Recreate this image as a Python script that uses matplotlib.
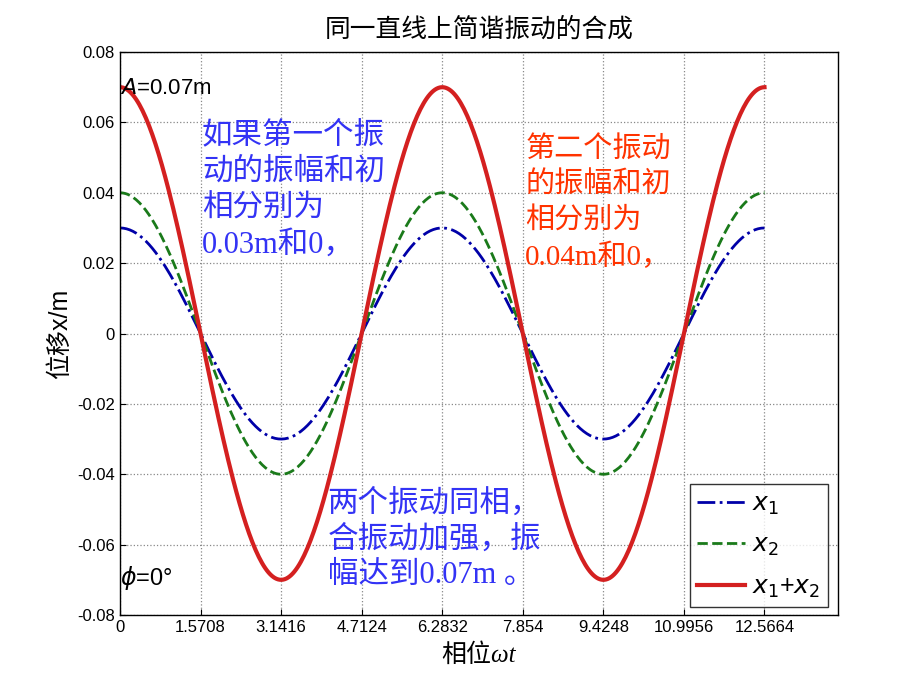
import numpy as np
import matplotlib
matplotlib.use("Agg")
import matplotlib.pyplot as plt

# Data
amp1 = 0.03          # first vibration amplitude (m)
amp2 = 0.04          # second vibration amplitude (m)
phase1 = 0.0
phase2 = 0.0
t_max = 4 * np.pi
xtick_vals = [0, 1.5708, 3.1416, 4.7124, 6.2832, 7.854, 9.4248, 10.9956, 12.5664]
xtick_labels = ["0", "1.5708", "3.1416", "4.7124", "6.2832", "7.854", "9.4248", "10.9956", "12.5664"]
ytick_vals = [-0.08, -0.06, -0.04, -0.02, 0, 0.02, 0.04, 0.06, 0.08]
ytick_labels = ["-0.08", "-0.06", "-0.04", "-0.02", "0", "0.02", "0.04", "0.06", "0.08"]
blue_lines = ['如果第一个振', '动的振幅和初', '相分别为', '0.03m和0，']
red_lines = ['第二个振动', '的振幅和初', '相分别为', '0.04m和0，']
bottom_lines = ['两个振动同相，', '合振动加强，振', '幅达到0.07m 。']

t = np.linspace(0, t_max, 400)
x1 = amp1 * np.cos(t + phase1)
x2 = amp2 * np.cos(t + phase2)
xs = x1 + x2

plt.rcParams['font.family'] = ['Liberation Sans', 'Noto Sans CJK SC', 'DejaVu Sans']
cjk = ['Noto Sans CJK SC', 'DejaVu Sans']
sans_cjk = ['Liberation Sans', 'Noto Sans CJK SC', 'DejaVu Sans']
mix = ['Liberation Serif', 'Noto Sans CJK SC', 'DejaVu Sans']

fig = plt.figure(figsize=(9.2, 6.9), dpi=100)
ax = fig.add_axes([0.1304, 0.1087, 0.7805, 0.8159])

ax.plot(t, x1, color='#0000A8', linestyle='-.', linewidth=2, label='$x_1$')
ax.plot(t, x2, color='#1A7A1A', linestyle='--', linewidth=2, label='$x_2$')
ax.plot(t, xs, color='#D42020', linestyle='-', linewidth=3, label='$x_1$+$x_2$')

ax.set_xlim(0, 14)
ax.set_ylim(-0.08, 0.08)
ax.set_xticks(xtick_vals)
ax.set_xticklabels(xtick_labels)
ax.set_yticks(ytick_vals)
ax.set_yticklabels(ytick_labels)
ax.tick_params(direction='in', labelsize=12, length=4)
ax.grid(True, linestyle=':', color='#888888', linewidth=0.9)
for s in ax.spines.values():
    s.set_linewidth(1)

ax.set_title('同一直线上简谐振动的合成', fontsize=18.5, family=cjk, pad=11)
ax.set_ylabel('位移x/m', fontsize=18, family=sans_cjk, labelpad=4)
ax.set_xlabel('相位ωt', fontsize=18, family=mix, style='italic', labelpad=6)

ax.text(0.0, 0.0695, '$A$=0.07m', fontsize=16, family='Liberation Sans', va='center', ha='left')
ax.text(0.0, -0.0695, '$\\phi$=0°', fontsize=17, family='Liberation Sans', va='center', ha='left')

blue = '#3333F5'
red = '#FF3300'
for i, s in enumerate(blue_lines):
    ax.text(1.60, 0.0562 - i * 0.0104, s, color=blue, fontsize=22, family=mix,
            va='center', ha='left')
for i, s in enumerate(red_lines):
    ax.text(7.90, 0.0522 - i * 0.0102, s, color=red, fontsize=21, family=mix,
            va='center', ha='left')
for i, s in enumerate(bottom_lines):
    ax.text(4.05, -0.0485 - i * 0.0102, s, color=blue, fontsize=22, family=mix,
            va='center', ha='left')

leg = ax.legend(loc='lower right', fontsize=18, frameon=True, fancybox=False,
                edgecolor='black', handlelength=1.9, labelspacing=0.65,
                borderpad=0.3, handletextpad=0.3, borderaxespad=0,
                bbox_to_anchor=(0.986, 0.014))
leg.get_frame().set_linewidth(1)

fig.savefig('out.png', dpi=100)
